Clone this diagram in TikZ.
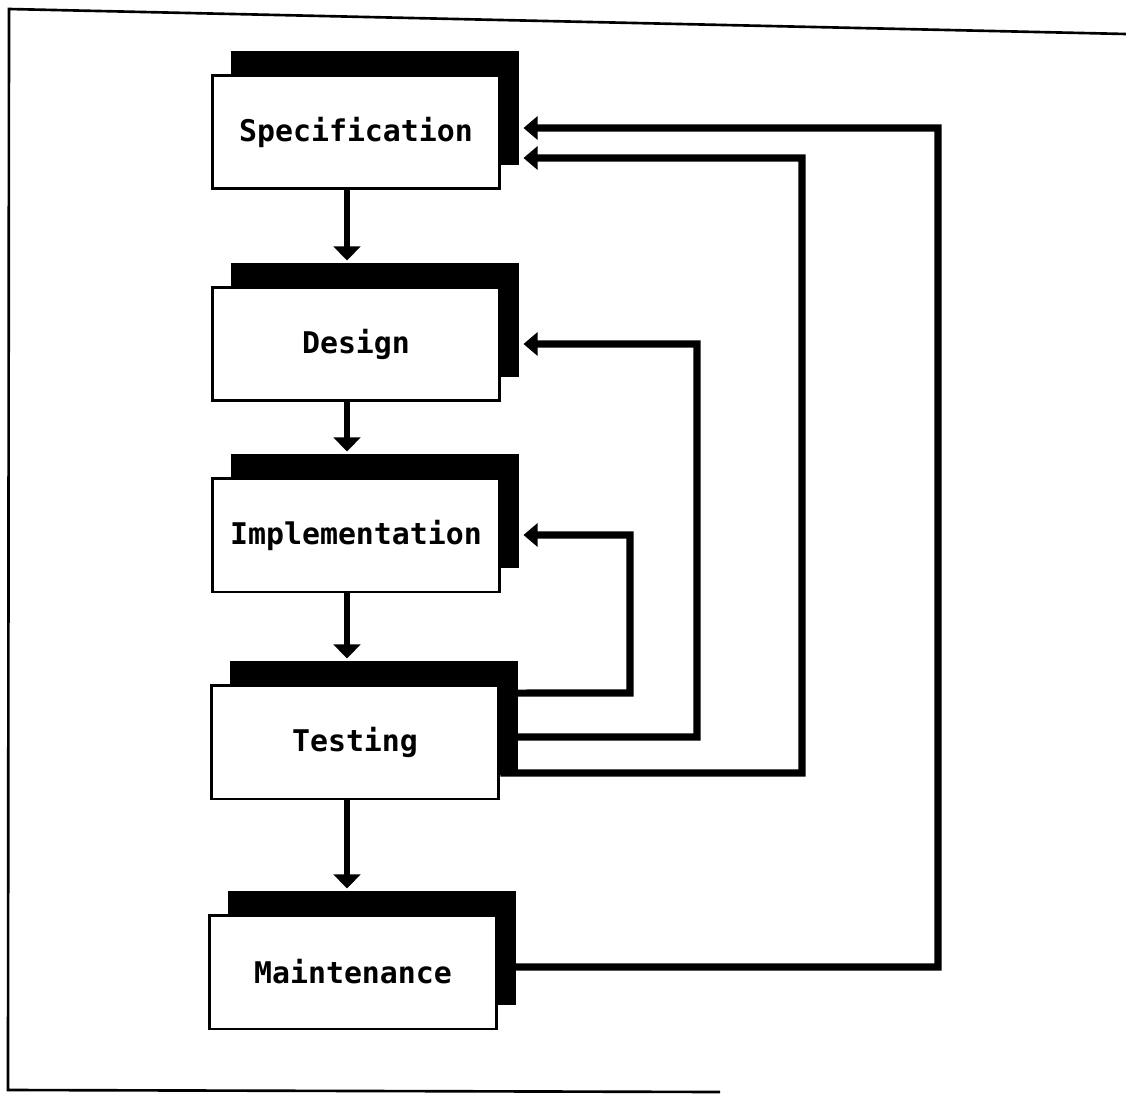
\documentclass[tikz,border=0pt]{standalone}
\usepackage{fontspec}
\setmonofont{DejaVu Sans Mono}
\usetikzlibrary{arrows.meta,shadows}
\tikzset{
  phaseBox/.style={rectangle,draw=black,line width=1.7pt,fill=white,minimum width=5.76cm,minimum height=2.28cm,inner sep=0pt,
    font=\ttfamily\bfseries\fontsize{17}{20}\selectfont,
    general shadow={fill=black,shadow xshift=0.38cm,shadow yshift=0.48cm}},
  flow/.style={line width=3.4pt,-{Triangle[length=8pt,width=15pt]}},
  feedback/.style={line width=4pt,-{Triangle[length=8pt,width=13pt]}},
  frame/.style={line width=1.5pt}
}
\begin{document}
\begin{tikzpicture}[x=0.02cm,y=-0.02cm]
  \useasboundingbox (0,0) rectangle (1126,1095);
  \draw[frame] (1126,34) -- (9,9) -- (8,1090) -- (720,1092);
  % phases
  \node[phaseBox] (Spec) at (356,132) {Specification};
  \node[phaseBox] (Design) at (356,344) {Design};
  \node[phaseBox] (Impl) at (356,535) {Implementation};
  \node[phaseBox] (Test) at (355,742) {Testing};
  \node[phaseBox] (Maint) at (353,972) {Maintenance};
  \foreach \a/\b in {Spec/Design,Design/Impl,Impl/Test,Test/Maint}
      \draw[flow] (\a.south -| 347,0) -- ([yshift=0.5cm]\b.north -| 347,0);
  % going back
  \draw[feedback] ([yshift=0.98cm]Test.east) -- (630,693) |- ([xshift=0.44cm]Impl.east);
  \draw[feedback] ([yshift=0.1cm]Test.east) -- (697,737) |- ([xshift=0.44cm]Design.east);
  \draw[feedback] ([yshift=-0.62cm]Test.east) -- (802,773) |- ([xshift=0.44cm,yshift=-0.52cm]Spec.east);
  \draw[feedback] ([yshift=0.1cm]Maint.east) -- (938,967) |- ([xshift=0.44cm,yshift=0.08cm]Spec.east);
\end{tikzpicture}
\end{document}
